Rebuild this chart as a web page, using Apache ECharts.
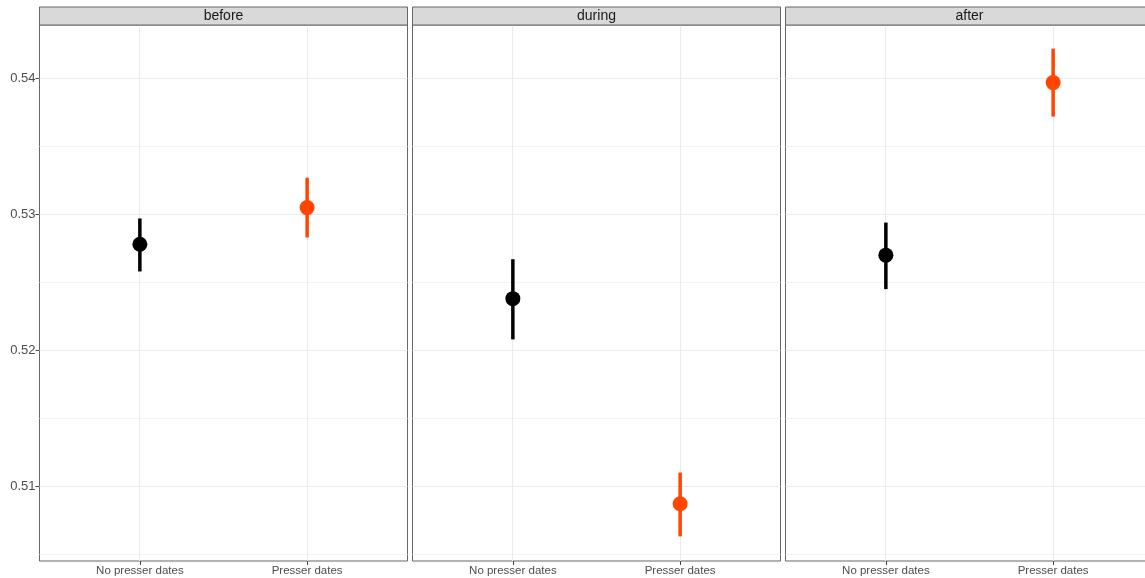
<!DOCTYPE html>
<html>
<head>
<meta charset="utf-8">
<script src="https://cdn.jsdelivr.net/npm/echarts@6/dist/echarts.min.js"></script>
<style>
  html, body { margin: 0; padding: 0; background: #fff; }
  #chart { width: 1145px; height: 578px; }
</style>
</head>
<body>
<div id="chart"></div>
<script>
(function (echarts) {
  "use strict";

  // facet panels and x categories
  var panels = ["before", "during", "after"];
  var categories = ["No presser dates", "Presser dates"];
  var pointColors = ["#000000", "#FF4500"];

  // estimates (No presser dates, Presser dates)
  var beforeMean = [0.5278, 0.5305];
  var beforeLow = [0.5258, 0.5283];
  var beforeHigh = [0.5297, 0.5327];

  var duringMean = [0.5238, 0.5087];
  var duringLow = [0.5208, 0.5063];
  var duringHigh = [0.5267, 0.5110];

  var afterMean = [0.5270, 0.5397];
  var afterLow = [0.5245, 0.5372];
  var afterHigh = [0.5294, 0.5422];

  // y axis ticks
  var yTicks = [0.51, 0.52, 0.53, 0.54];
  var yMinorTicks = [0.505, 0.515, 0.525, 0.535];
  var yMin = 0.50449, yMax = 0.54394;
  var xMin = 0.4, xMax = 2.6;

  var means = [beforeMean, duringMean, afterMean];
  var lows = [beforeLow, duringLow, afterLow];
  var highs = [beforeHigh, duringHigh, afterHigh];

  // layout (the last panel runs past the right edge, as in the original)
  var FONT = "Liberation Sans, Arial, sans-serif";
  var panelLefts = [39.5, 412.5, 785.5];
  var panelWidth = 368;
  var stripTop = 7, panelTop = 25, panelBottom = 561;

  // grid line rows: [0 = horizontal / 1 = vertical, value, minor?]
  var gridRows = [];
  yMinorTicks.forEach(function (v) { gridRows.push([0, v, 1]); });
  yTicks.forEach(function (v) { gridRows.push([0, v, 0]); });
  categories.forEach(function (c, k) { gridRows.push([1, k + 1, 0]); });

  function snap(v) { return Math.round(v - 0.5) + 0.5; }

  var grids = [], xAxes = [], yAxes = [], series = [], graphics = [];

  panels.forEach(function (name, i) {
    grids.push({
      left: panelLefts[i],
      width: panelWidth,
      top: panelTop,
      height: panelBottom - panelTop,
      outerBoundsMode: "none",
      show: true,
      backgroundColor: "#ffffff",
      borderColor: "#666666",
      borderWidth: 1,
      containLabel: false
    });

    xAxes.push({
      gridIndex: i,
      type: "value",
      min: xMin,
      max: xMax,
      axisLine: { show: false },
      splitLine: { show: false },
      axisTick: { show: true, length: 4, customValues: [1, 2], lineStyle: { color: "#444" } },
      axisLabel: {
        customValues: [1, 2],
        color: "#4D4D4D",
        fontFamily: FONT,
        fontSize: 11.5,
        margin: 4,
        formatter: function (v) { return categories[Math.round(v) - 1] || ""; }
      }
    });

    yAxes.push({
      gridIndex: i,
      type: "value",
      min: yMin,
      max: yMax,
      axisLine: { show: false },
      splitLine: { show: false },
      axisTick: { show: i === 0, length: 4, customValues: yTicks, lineStyle: { color: "#444" } },
      axisLabel: {
        show: i === 0,
        customValues: yTicks,
        color: "#4D4D4D",
        fontFamily: FONT,
        fontSize: 13,
        margin: 4,
        formatter: function (v) { return v.toFixed(2); }
      }
    });

    // panel grid lines
    series.push({
      type: "custom",
      xAxisIndex: i,
      yAxisIndex: i,
      z: 1,
      silent: true,
      data: gridRows,
      encode: { x: -1, y: -1 },
      renderItem: function (params, api) {
        var vertical = api.value(0) === 1;
        var v = api.value(1);
        var p1, p2;
        if (vertical) {
          p1 = api.coord([v, yMin]);
          p2 = api.coord([v, yMax]);
          p1[0] = p2[0] = snap(p1[0]);
        } else {
          p1 = api.coord([xMin, v]);
          p2 = api.coord([xMax, v]);
          p1[1] = p2[1] = snap(p1[1]);
        }
        return {
          type: "line",
          shape: { x1: p1[0], y1: p1[1], x2: p2[0], y2: p2[1] },
          style: { stroke: api.value(2) ? "#F2F2F2" : "#EBEBEB", lineWidth: 1 }
        };
      }
    });

    var pts = categories.map(function (c, k) {
      return [k + 1, means[i][k], lows[i][k], highs[i][k], k];
    });

    series.push({
      type: "custom",
      xAxisIndex: i,
      yAxisIndex: i,
      z: 5,
      clip: false,
      encode: { x: 0, y: [1, 2, 3] },
      data: pts,
      renderItem: function (params, api) {
        var x = api.value(0);
        var color = pointColors[api.value(4)];
        var pm = api.coord([x, api.value(1)]);
        var plo = api.coord([x, api.value(2)]);
        var phi = api.coord([x, api.value(3)]);
        return {
          type: "group",
          children: [
            {
              type: "line",
              shape: { x1: plo[0], y1: plo[1], x2: phi[0], y2: phi[1] },
              style: { stroke: color, lineWidth: 3.5 }
            },
            {
              type: "circle",
              shape: { cx: pm[0], cy: pm[1], r: 7.5 },
              style: { fill: color }
            }
          ]
        };
      }
    });

    // facet strip
    graphics.push({
      type: "rect",
      shape: { x: panelLefts[i], y: stripTop, width: panelWidth, height: panelTop - stripTop },
      style: { fill: "#D9D9D9", stroke: "#666666", lineWidth: 1 },
      z: 10
    });
    graphics.push({
      type: "text",
      x: panelLefts[i] + panelWidth / 2,
      y: (stripTop + panelTop) / 2,
      style: {
        text: name,
        fill: "#1A1A1A",
        font: "14px " + FONT,
        align: "center",
        verticalAlign: "middle"
      },
      z: 11
    });
  });

  var chart = echarts.init(document.getElementById("chart"), null, { renderer: "canvas" });
  chart.setOption({
    animation: false,
    backgroundColor: "#ffffff",
    grid: grids,
    xAxis: xAxes,
    yAxis: yAxes,
    series: series,
    graphic: graphics
  });
})(echarts);
</script>
</body>
</html>
